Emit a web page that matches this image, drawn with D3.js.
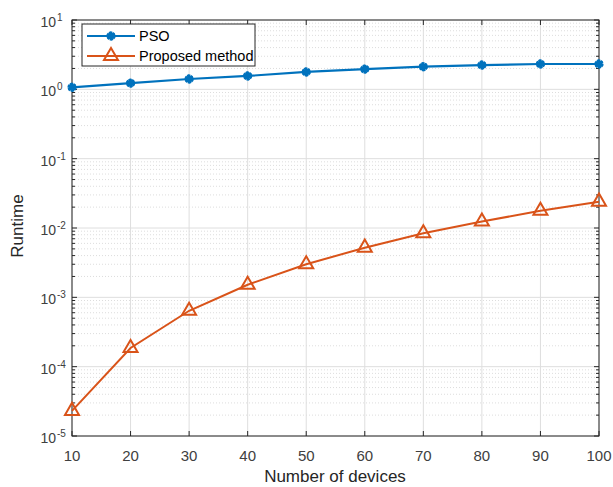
<!DOCTYPE html>
<html><head><meta charset="utf-8">
<script src="https://cdn.jsdelivr.net/npm/d3@7"></script>
<style>body{margin:0;background:#fff;} text{font-family:"Liberation Sans",Arial,sans-serif;}</style>
</head><body>
<svg id="c" width="613" height="487"></svg>
<script>
const devices = [10,20,30,40,50,60,70,80,90,100];
const psoRuntime = [1.07,1.23,1.41,1.56,1.78,1.96,2.12,2.24,2.32,2.32];
const proposedRuntime = [2.3e-5,1.86e-4,6.4e-4,1.52e-3,3.0e-3,5.2e-3,8.4e-3,1.24e-2,1.77e-2,2.4e-2];
const xTicks = [10,20,30,40,50,60,70,80,90,100];
const yExponents = [-5,-4,-3,-2,-1,0,1];
const seriesNames = ["PSO","Proposed method"];

const L=72,R=599,T=20,B=436;
const svg=d3.select("#c");
const x=d3.scaleLinear().domain([10,100]).range([L,R]);
const y=d3.scaleLog().domain([1e-5,1e1]).range([B,T]);

const minor=[];
for(let e=-5;e<1;e++) for(let m=2;m<=9;m++) minor.push(m*Math.pow(10,e));
const g=svg.append("g");
g.selectAll(".mg").data(minor).enter().append("line")
 .attr("x1",L).attr("x2",R).attr("y1",d=>y(d)).attr("y2",d=>y(d))
 .attr("stroke","#d4d4d4").attr("stroke-width",0.8).attr("stroke-dasharray","1,2");
g.selectAll(".gx").data(xTicks).enter().append("line")
 .attr("x1",d=>x(d)).attr("x2",d=>x(d)).attr("y1",T).attr("y2",B)
 .attr("stroke","#dedede").attr("stroke-width",1);
g.selectAll(".gy").data(yExponents).enter().append("line")
 .attr("x1",L).attr("x2",R).attr("y1",d=>y(Math.pow(10,d))).attr("y2",d=>y(Math.pow(10,d)))
 .attr("stroke","#dedede").attr("stroke-width",1);

svg.append("rect").attr("x",L).attr("y",T).attr("width",R-L).attr("height",B-T)
 .attr("fill","none").attr("stroke","#262626").attr("stroke-width",1);

const ax=svg.append("g").attr("stroke","#262626").attr("stroke-width",1);
xTicks.forEach(v=>{
  ax.append("line").attr("x1",x(v)).attr("x2",x(v)).attr("y1",B).attr("y2",B-5);
  ax.append("line").attr("x1",x(v)).attr("x2",x(v)).attr("y1",T).attr("y2",T+5);
});
yExponents.forEach(e=>{
  const yy=y(Math.pow(10,e));
  ax.append("line").attr("x1",L).attr("x2",L+5).attr("y1",yy).attr("y2",yy);
  ax.append("line").attr("x1",R).attr("x2",R-5).attr("y1",yy).attr("y2",yy);
});
minor.forEach(v=>{
  const yy=y(v);
  ax.append("line").attr("x1",L).attr("x2",L+3).attr("y1",yy).attr("y2",yy);
  ax.append("line").attr("x1",R).attr("x2",R-3).attr("y1",yy).attr("y2",yy);
});

svg.selectAll(".xl").data(xTicks).enter().append("text")
 .attr("x",d=>x(d)).attr("y",B+25).attr("text-anchor","middle")
 .attr("font-size",15).attr("fill","#404040").text(d=>d);
yExponents.forEach(e=>{
  const yy=y(Math.pow(10,e));
  svg.append("text").attr("x",56).attr("y",yy+7)
   .attr("text-anchor","end").attr("font-size",14).attr("fill","#404040").text("10");
  svg.append("text").attr("x",57).attr("y",yy+1)
   .attr("font-size",10).attr("fill","#404040").text(e);
});

svg.append("text").attr("x",335).attr("y",482).attr("text-anchor","middle")
 .attr("font-size",17).attr("fill","#262626").text("Number of devices");
svg.append("text").attr("transform",`translate(23,226) rotate(-90)`)
 .attr("text-anchor","middle").attr("font-size",17).attr("fill","#262626").text("Runtime");

const blue="#0072BD", orange="#D95319";
const line=d3.line().x((d,i)=>x(devices[i])).y(d=>y(d));
svg.append("path").datum(psoRuntime).attr("d",line).attr("fill","none").attr("stroke",blue).attr("stroke-width",2.2);
svg.append("path").datum(proposedRuntime).attr("d",line).attr("fill","none").attr("stroke",orange).attr("stroke-width",2);

function starMark(sel,cx,cy){
  sel.append("path").attr("d",d3.symbol().type(d3.symbolAsterisk).size(55)())
   .attr("transform",`translate(${cx},${cy})`).attr("fill","none").attr("stroke",blue).attr("stroke-width",2.6);
  sel.append("path").attr("d",d3.symbol().type(d3.symbolAsterisk).size(55)())
   .attr("transform",`translate(${cx},${cy}) rotate(45)`).attr("fill","none").attr("stroke",blue).attr("stroke-width",2.6);
  sel.append("circle").attr("cx",cx).attr("cy",cy).attr("r",2.8).attr("fill",blue);
}
psoRuntime.forEach((v,i)=>starMark(svg,x(devices[i]),y(v)));
const tri=d3.symbol().type(d3.symbolTriangle).size(85);
svg.selectAll(".tr").data(proposedRuntime).enter().append("path")
 .attr("d",tri).attr("transform",(d,i)=>`translate(${x(devices[i])},${y(d)})`)
 .attr("fill","none").attr("stroke",orange).attr("stroke-width",2);

const lg=svg.append("g");
lg.append("rect").attr("x",82).attr("y",24).attr("width",173).attr("height",42)
 .attr("fill","#fff").attr("stroke","#262626").attr("stroke-width",1);
lg.append("line").attr("x1",87).attr("x2",135).attr("y1",36).attr("y2",36).attr("stroke",blue).attr("stroke-width",2.2);
starMark(lg,111,36);
lg.append("text").attr("x",139).attr("y",41).attr("font-size",14.5).attr("fill","#000").text(seriesNames[0]);
lg.append("line").attr("x1",87).attr("x2",135).attr("y1",56).attr("y2",56).attr("stroke",orange).attr("stroke-width",2);
lg.append("path").attr("d",tri).attr("transform","translate(111,56)").attr("fill","none").attr("stroke",orange).attr("stroke-width",2);
lg.append("text").attr("x",139).attr("y",61).attr("font-size",14.5).attr("fill","#000").text(seriesNames[1]);
</script>
</body></html>
